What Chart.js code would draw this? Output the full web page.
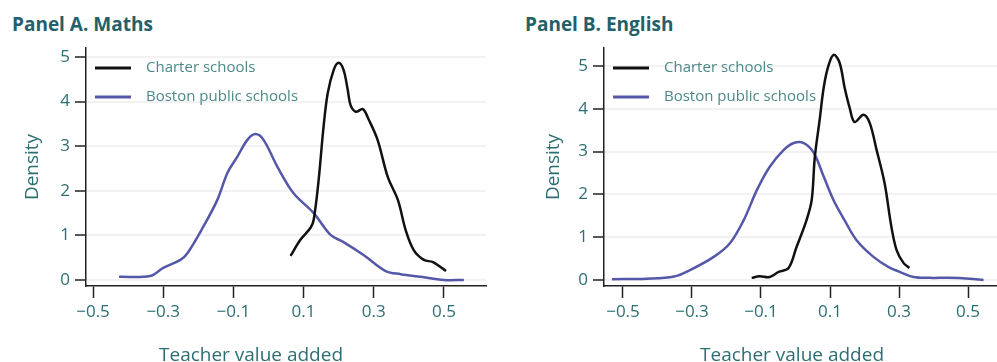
<!DOCTYPE html>
<html>
<head>
<meta charset="utf-8">
<script src="https://cdn.jsdelivr.net/npm/chart.js@4.4.1/dist/chart.umd.min.js"></script>
<style>
  body { margin: 0; background: #fff; width: 997px; height: 362px; overflow: hidden; position: relative; }
  .panel { position: absolute; top: 0; height: 370px; }
  .title { position: absolute; top: 11px; font: bold 19px "Open Sans", sans-serif; color: #23606a; }
</style>
</head>
<body>
<div class="title" style="left:12px">Panel A. Maths</div>
<div class="title" style="left:525px">Panel B. English</div>
<div class="panel" style="left:0;width:497px"><canvas id="chartA"></canvas></div>
<div class="panel" style="left:497px;width:500px"><canvas id="chartB"></canvas></div>
<script>
// ticks
const xTicks = [-0.5, -0.3, -0.1, 0.1, 0.3, 0.5];
const yTicks = [0, 1, 2, 3, 4, 5];
const seriesNames = ['Charter schools', 'Boston public schools'];

// Panel A (maths) - kernel densities
const mathsCharterX = [0.063, 0.091, 0.12, 0.129, 0.143, 0.157, 0.169, 0.186, 0.2, 0.214, 0.226, 0.234, 0.249, 0.269, 0.286, 0.311, 0.34, 0.369, 0.391, 0.414, 0.443, 0.469, 0.506];
const mathsCharterY = [0.54, 0.9, 1.17, 1.35, 2.24, 3.43, 4.19, 4.71, 4.87, 4.71, 4.26, 3.92, 3.77, 3.83, 3.59, 3.14, 2.31, 1.79, 1.12, 0.67, 0.45, 0.4, 0.2];
const mathsBostonX = [-0.426, -0.337, -0.3, -0.251, -0.231, -0.186, -0.146, -0.117, -0.089, -0.06, -0.037, -0.014, 0.026, 0.071, 0.129, 0.177, 0.214, 0.271, 0.334, 0.377, 0.434, 0.5, 0.557];
const mathsBostonY = [0.07, 0.09, 0.27, 0.45, 0.6, 1.19, 1.79, 2.4, 2.76, 3.14, 3.27, 3.14, 2.53, 1.95, 1.5, 1.01, 0.85, 0.56, 0.2, 0.13, 0.07, 0.0, 0.0];

// Panel B (english)
const engCharterX = [-0.127, -0.104, -0.075, -0.049, -0.02, 0.003, 0.032, 0.047, 0.056, 0.07, 0.082, 0.096, 0.111, 0.128, 0.142, 0.157, 0.171, 0.197, 0.215, 0.235, 0.258, 0.278, 0.293, 0.313, 0.33];
const engCharterY = [0.05, 0.09, 0.07, 0.19, 0.28, 0.77, 1.4, 1.87, 2.87, 3.74, 4.51, 5.02, 5.26, 5.07, 4.51, 4.02, 3.69, 3.86, 3.67, 3.04, 2.27, 1.24, 0.7, 0.4, 0.28];
const engBostonX = [-0.532, -0.431, -0.352, -0.306, -0.237, -0.19, -0.15, -0.112, -0.075, -0.034, -0.005, 0.024, 0.053, 0.082, 0.11, 0.142, 0.177, 0.226, 0.27, 0.302, 0.342, 0.388, 0.446, 0.504, 0.545];
const engBostonY = [0.02, 0.03, 0.08, 0.23, 0.54, 0.86, 1.4, 2.1, 2.64, 3.04, 3.2, 3.2, 2.97, 2.41, 1.87, 1.4, 0.93, 0.54, 0.3, 0.19, 0.07, 0.05, 0.05, 0.03, 0.0];

const teal = '#2d6e72';
const pts = (xs, ys) => xs.map((x, i) => ({x: x, y: ys[i]}));

// legend inside the plot + x axis title centred where the original has it
const extras = {
  id: 'extras',
  afterDraw(chart, args, opts) {
    const ctx = chart.ctx, a = chart.chartArea;
    ctx.save();
    chart.data.datasets.forEach((ds, i) => {
      const y = a.top + 20 + i * 29;
      ctx.strokeStyle = ds.borderColor;
      ctx.lineWidth = 3;
      ctx.beginPath();
      ctx.moveTo(a.left + 9, y);
      ctx.lineTo(a.left + 45, y);
      ctx.stroke();
      ctx.fillStyle = '#4d8888';
      ctx.font = '15px "Open Sans"';
      ctx.textBaseline = 'middle';
      ctx.fillText(ds.label, a.left + 60, y);
    });
    ctx.fillStyle = teal;
    ctx.font = '19px "Open Sans"';
    ctx.textAlign = 'center';
    ctx.textBaseline = 'middle';
    ctx.fillText('Teacher value added', opts.titleX, 356);
    ctx.restore();
  }
};

function makeChart(id, charter, boston, xr, yr, yWidth, padLeft, padRight, titleX) {
  const ctx = document.getElementById(id).getContext('2d');
  return new Chart(ctx, {
    type: 'line',
    data: {
      datasets: [
        {label: seriesNames[0], data: charter, borderColor: '#111', borderWidth: 2.5, pointRadius: 0, tension: 0.35, fill: false},
        {label: seriesNames[1], data: boston, borderColor: '#5558a8', borderWidth: 2.5, pointRadius: 0, tension: 0.35, fill: false}
      ]
    },
    plugins: [extras],
    options: {
      responsive: true,
      maintainAspectRatio: false,
      animation: false,
      layout: {padding: {top: 48, left: padLeft, right: padRight, bottom: 0}},
      scales: {
        x: {
          type: 'linear', min: xr[0], max: xr[1],
          afterBuildTicks: s => { s.ticks = xTicks.map(v => ({value: v})); },
          afterFit: s => { s.height = 84; },
          grid: {drawOnChartArea: false, tickLength: 12, tickColor: '#222', tickWidth: 1.5},
          border: {color: '#222', width: 1.5},
          ticks: {color: teal, font: {family: 'Open Sans', size: 17}, padding: 4,
                  callback: v => (v < 0 ? '\u2212' + Math.abs(v) : '' + v)}
        },
        y: {
          min: yr[0], max: yr[1],
          afterBuildTicks: s => { s.ticks = yTicks.map(v => ({value: v})); },
          afterFit: s => { s.width = yWidth; },
          grid: {color: '#f2f2f2', lineWidth: 2, tickLength: 11, tickColor: '#222', tickWidth: 1.5},
          border: {color: '#222', width: 1.5},
          ticks: {color: teal, font: {family: 'Open Sans', size: 17}, padding: 5},
          title: {display: true, text: 'Density', color: teal, font: {family: 'Open Sans', size: 19}, padding: {top: 21, bottom: 0}}
        }
      },
      plugins: {
        legend: {display: false},
        tooltip: {enabled: false},
        extras: {titleX: titleX}
      }
    }
  });
}

makeChart('chartA', pts(mathsCharterX, mathsCharterY), pts(mathsBostonX, mathsBostonY), [-0.52, 0.62], [-0.135, 5.2], 86, 0, 11, 251);
makeChart('chartB', pts(engCharterX, engCharterY), pts(engBostonX, engBostonY), [-0.555, 0.584], [-0.14, 5.42], 83, 24, 0, 295);
</script>
</body>
</html>
